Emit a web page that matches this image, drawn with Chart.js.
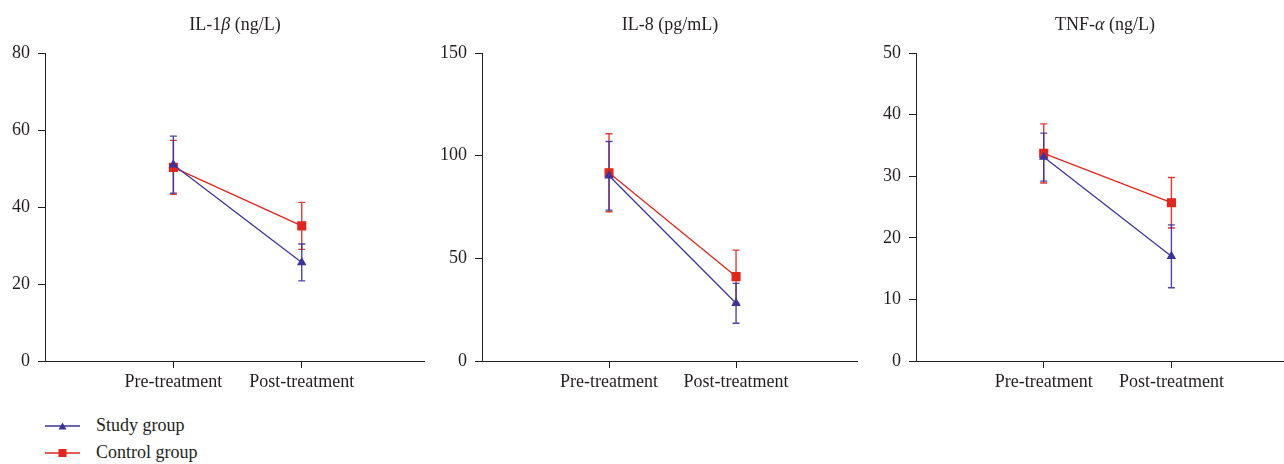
<!DOCTYPE html>
<html>
<head>
<meta charset="utf-8">
<script src="https://cdn.jsdelivr.net/npm/chart.js@4.4.0/dist/chart.umd.min.js"></script>
<style>
  html, body { margin: 0; padding: 0; background: #fff; width: 1284px; height: 464px; overflow: hidden; }
  .panel { position: absolute; top: 0; height: 400px; }
  #legend { position: absolute; left: 45px; top: 412px; font: 18px "Liberation Serif", serif; color: #231f20; }
  .row { display: flex; align-items: center; height: 27px; }
  .row svg { margin-right: 16px; }
</style>
</head>
<body>
<div class="panel" style="left:0;width:425px"><canvas id="c1"></canvas></div>
<div class="panel" style="left:437px;width:421px"><canvas id="c2"></canvas></div>
<div class="panel" style="left:871px;width:423px"><canvas id="c3"></canvas></div>
<div id="legend"></div>

<script>
const categories = ["Pre-treatment", "Post-treatment"];
const seriesNames = ["Study group", "Control group"];
const seriesColors = ["#3b33a0", "#e2261c"];

// titles: [text, italic] segments
const titles = [
  [["IL-1", false], ["β", true], [" (ng/L)", false]],
  [["IL-8 (pg/mL)", false]],
  [["TNF-", false], ["α", true], [" (ng/L)", false]],
];
const yMax = [80, 150, 50];
const yStep = [20, 50, 10];

// means and SDs
const il1Study = [51.0, 25.6];
const il1StudySd = [7.4, 4.8];
const il1Control = [50.3, 35.1];
const il1ControlSd = [7.0, 6.1];

const il8Study = [90.2, 28.1];
const il8StudySd = [16.7, 9.7];
const il8Control = [91.7, 41.1];
const il8ControlSd = [19.0, 12.9];

const tnfStudy = [33.1, 17.0];
const tnfStudySd = [3.9, 5.1];
const tnfControl = [33.7, 25.7];
const tnfControlSd = [4.8, 4.1];

const panels = [
  { id: "c1", study: il1Study, studySd: il1StudySd, control: il1Control, controlSd: il1ControlSd },
  { id: "c2", study: il8Study, studySd: il8StudySd, control: il8Control, controlSd: il8ControlSd },
  { id: "c3", study: tnfStudy, studySd: tnfStudySd, control: tnfControl, controlSd: tnfControlSd },
];

const INK = "#231f20";
const FONT = { family: "'Liberation Serif', serif", size: 18 };

const errorBars = {
  id: "errorBars",
  beforeDatasetsDraw(chart) {
    const { ctx, scales } = chart;
    ctx.save();
    // control first, study on top
    for (let d = chart.data.datasets.length - 1; d >= 0; d--) {
      const ds = chart.data.datasets[d];
      ctx.strokeStyle = ds.borderColor;
      ctx.globalAlpha = 0.9;
      ctx.lineWidth = 1.4;
      ds.data.forEach((p, i) => {
        const x = scales.x.getPixelForValue(p.x);
        const top = scales.y.getPixelForValue(p.y + ds.sd[i]);
        const bot = scales.y.getPixelForValue(p.y - ds.sd[i]);
        ctx.beginPath();
        ctx.moveTo(x, top); ctx.lineTo(x, bot);
        ctx.moveTo(x - 3.5, top); ctx.lineTo(x + 3.5, top);
        ctx.moveTo(x - 3.5, bot); ctx.lineTo(x + 3.5, bot);
        ctx.stroke();
      });
    }
    ctx.restore();
  },
};

const panelTitle = {
  id: "panelTitle",
  afterDraw(chart, args, opts) {
    const { ctx, chartArea } = chart;
    const parts = opts.parts || [];
    ctx.save();
    ctx.fillStyle = INK;
    ctx.textBaseline = "alphabetic";
    const fontFor = (it) => (it ? "italic " : "") + FONT.size + "px " + FONT.family;
    let w = 0;
    parts.forEach(([t, it]) => { ctx.font = fontFor(it); w += ctx.measureText(t).width; });
    let x = (chartArea.left + chartArea.right) / 2 - w / 2;
    parts.forEach(([t, it]) => {
      ctx.font = fontFor(it);
      ctx.fillText(t, x, 30);
      x += ctx.measureText(t).width;
    });
    ctx.restore();
  },
};

panels.forEach((p, k) => {
  const toPoints = (arr) => arr.map((v, i) => ({ x: i + 1, y: v }));
  new Chart(document.getElementById(p.id), {
    type: "line",
    data: {
      datasets: [
        {
          label: seriesNames[0], data: toPoints(p.study), sd: p.studySd,
          borderColor: seriesColors[0], backgroundColor: seriesColors[0],
          borderWidth: 1.3, pointStyle: "triangle", pointRadius: 4.2, pointHoverRadius: 4.2,
        },
        {
          label: seriesNames[1], data: toPoints(p.control), sd: p.controlSd,
          borderColor: seriesColors[1], backgroundColor: seriesColors[1],
          borderWidth: 1.3, pointStyle: "rect", pointRadius: 5.5, pointHoverRadius: 5.5,
        },
      ],
    },
    options: {
      responsive: true,
      maintainAspectRatio: false,
      animation: false,
      events: [],
      layout: { autoPadding: false, padding: { top: 53, right: 0, left: 0, bottom: 0 } },
      plugins: {
        legend: { display: false },
        tooltip: { enabled: false },
        panelTitle: { parts: titles[k] },
      },
      scales: {
        x: {
          type: "linear", min: 0, max: 2.96,
          afterBuildTicks: (s) => { s.ticks = [{ value: 1 }, { value: 2 }]; },
          afterFit: (s) => { s.height = 39; s.paddingLeft = 0; s.paddingRight = 0; },
          ticks: { callback: (v) => categories[v - 1], color: INK, font: FONT, padding: 3, maxRotation: 0, autoSkip: false },
          grid: { drawOnChartArea: false, tickLength: 7, color: INK, tickWidth: 1 },
          border: { color: INK, width: 1 },
        },
        y: {
          min: 0, max: yMax[k],
          afterFit: (s) => { s.width = 45; },
          ticks: { stepSize: yStep[k], color: INK, font: FONT, padding: 8 },
          grid: { drawOnChartArea: false, tickLength: 7, color: INK, tickWidth: 1 },
          border: { color: INK, width: 1 },
        },
      },
    },
    plugins: [errorBars, panelTitle],
  });
});

// legend
const markers = [
  (c) => `<polygon points="17.5,2.5 21.5,9.5 13.5,9.5" fill="${c}"/>`,
  (c) => `<rect x="13.5" y="2" width="8" height="8" fill="${c}"/>`,
];
document.getElementById("legend").innerHTML = seriesNames.map((name, i) => `
  <div class="row">
    <svg width="35" height="12" viewBox="0 0 35 12">
      <line x1="0" y1="6" x2="35" y2="6" stroke="${seriesColors[i]}" stroke-width="1.3"/>
      ${markers[i](seriesColors[i])}
    </svg>
    <span>${name}</span>
  </div>`).join("");
</script>
</body>
</html>
